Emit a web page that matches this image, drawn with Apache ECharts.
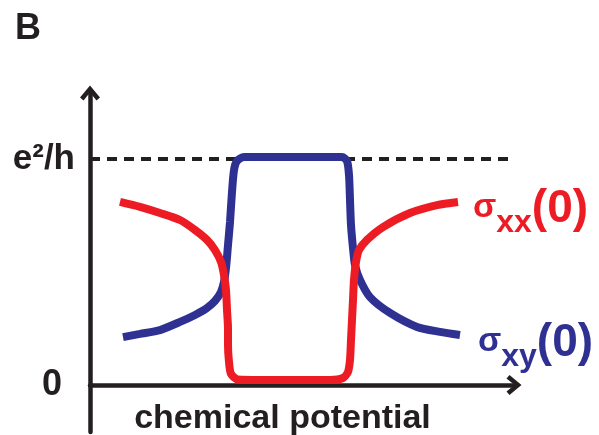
<!DOCTYPE html>
<html>
<head>
<meta charset="utf-8">
<script src="https://cdn.jsdelivr.net/npm/echarts@6/dist/echarts.min.js"></script>
<style>html,body{margin:0;padding:0;background:#fff;}#c{width:599px;height:435px;}</style>
</head>
<body>
<div id="c"></div>
<script>
// sigma_xx(0) curve (red)
const redX = [30, 50, 70, 90, 105, 117, 125, 131, 134, 136, 137, 138, 138, 139, 141, 148, 170, 210, 240, 253, 258, 260, 261, 262, 263, 264, 266, 269, 277, 293, 320, 347, 368];
const redY = [0.810, 0.788, 0.761, 0.730, 0.686, 0.642, 0.597, 0.545, 0.487, 0.420, 0.332, 0.250, 0.177, 0.102, 0.049, 0.024, 0.022, 0.022, 0.022, 0.031, 0.058, 0.111, 0.199, 0.288, 0.376, 0.465, 0.544, 0.597, 0.642, 0.699, 0.761, 0.796, 0.810];
// sigma_xy(0) curve (blue)
const blueX = [33, 50, 70, 90, 105, 117, 125, 131, 134, 136, 138, 140, 142, 144, 147, 154, 190, 230, 252, 257, 259, 260, 261, 263, 265, 270, 280, 300, 327, 350, 370];
const blueY = [0.212, 0.226, 0.243, 0.279, 0.310, 0.341, 0.372, 0.412, 0.456, 0.518, 0.619, 0.721, 0.854, 0.951, 0.991, 1.009, 1.009, 1.009, 1.009, 0.991, 0.929, 0.819, 0.708, 0.606, 0.531, 0.465, 0.389, 0.319, 0.257, 0.235, 0.221];
// y tick values and labels
const yTickValues = [0, 1];
const yTickLabels = ['0', 'e²/h'];
const quantumLevel = 1;
const xAxisTitle = 'chemical potential';
const panelLabel = 'B';

const INK = '#231F20', RED = '#ED1C24', BLUE = '#2E3192';
const FONT = 'Liberation Sans, Arial, sans-serif';
const chevron = 'path://M0 12 L10 0 L20 12 L16.5 15 L10 7 L3.5 15 Z';

const zip = (xs, ys) => xs.map((x, i) => [x, ys[i]]);

const chart = echarts.init(document.getElementById('c'));
chart.setOption({
  animation: false,
  backgroundColor: '#fff',
  title: {
    text: panelLabel, left: 10, top: 6,
    textStyle: { fontSize: 36, fontWeight: 'bold', color: INK, fontFamily: FONT }
  },
  grid: { left: 90, right: 85, top: 93, bottom: 3, containLabel: false, outerBoundsMode: 'none' },
  xAxis: {
    type: 'value', min: 0, max: 424,
    axisLine: { onZero: true, lineStyle: { color: INK, width: 4.5 }, symbol: ['none', chevron], symbolSize: [20, 18] },
    axisTick: { show: false }, axisLabel: { show: false }, splitLine: { show: false },
    name: xAxisTitle, nameLocation: 'middle', nameGap: -30, nameMoveOverlap: false,
    nameTextStyle: { fontSize: 34, fontWeight: 'bold', color: INK, fontFamily: FONT, padding: [0, 39, 0, 0] }
  },
  yAxis: {
    type: 'value', min: -0.208, max: 1.292,
    axisLine: { lineStyle: { color: INK, width: 4.5 }, symbol: ['none', chevron], symbolSize: [20, 18] },
    axisTick: { show: false }, splitLine: { show: false },
    axisLabel: {
      customValues: yTickValues, margin: 15,
      formatter: v => {
        const i = yTickValues.indexOf(v);
        if (i < 0) return '';
        return i === 0 ? '{z|' + yTickLabels[i] + '}' : '{e|' + yTickLabels[i] + '}';
      },
      rich: {
        z: { fontSize: 36, fontWeight: 'bold', color: INK, fontFamily: FONT, padding: [0, 13, 0, 0] },
        e: { fontSize: 35, fontWeight: 'bold', color: INK, fontFamily: FONT }
      }
    }
  },
  series: [
    {
      type: 'line', data: [], z: 1,
      markLine: {
        z: 1, silent: true, symbol: 'none', label: { show: false },
        lineStyle: { color: INK, width: 4, type: [10, 7] },
        data: [{ yAxis: quantumLevel }]
      }
    },
    {
      name: 'σxy(0)', type: 'line', data: zip(blueX, blueY), smooth: 0.25, showSymbol: false, z: 3,
      lineStyle: { color: BLUE, width: 8 }, itemStyle: { color: BLUE },
      endLabel: {
        show: true, distance: 18, offset: [0, 12],
        formatter: () => '{s|σ}{x|xy}{p|(0)}',
        rich: {
          s: { fontSize: 34, fontWeight: 'bold', color: BLUE, fontFamily: FONT, verticalAlign: 'bottom', padding: [0, 0, 15, 0] },
          x: { fontSize: 32, fontWeight: 'bold', color: BLUE, fontFamily: FONT, verticalAlign: 'bottom' },
          p: { fontSize: 46, fontWeight: 'bold', color: BLUE, fontFamily: FONT, verticalAlign: 'bottom', padding: [0, 0, 7, 0] }
        }
      }
    },
    {
      name: 'σxx(0)', type: 'line', data: zip(redX, redY), smooth: 0.25, showSymbol: false, z: 4,
      lineStyle: { color: RED, width: 8 }, itemStyle: { color: RED },
      endLabel: {
        show: true, distance: 15, offset: [0, 11],
        formatter: () => '{s|σ}{x|xx}{p|(0)}',
        rich: {
          s: { fontSize: 34, fontWeight: 'bold', color: RED, fontFamily: FONT, verticalAlign: 'bottom', padding: [0, 0, 15, 0] },
          x: { fontSize: 32, fontWeight: 'bold', color: RED, fontFamily: FONT, verticalAlign: 'bottom' },
          p: { fontSize: 46, fontWeight: 'bold', color: RED, fontFamily: FONT, verticalAlign: 'bottom', padding: [0, 0, 7, 0] }
        }
      }
    }
  ]
});
</script>
</body>
</html>
